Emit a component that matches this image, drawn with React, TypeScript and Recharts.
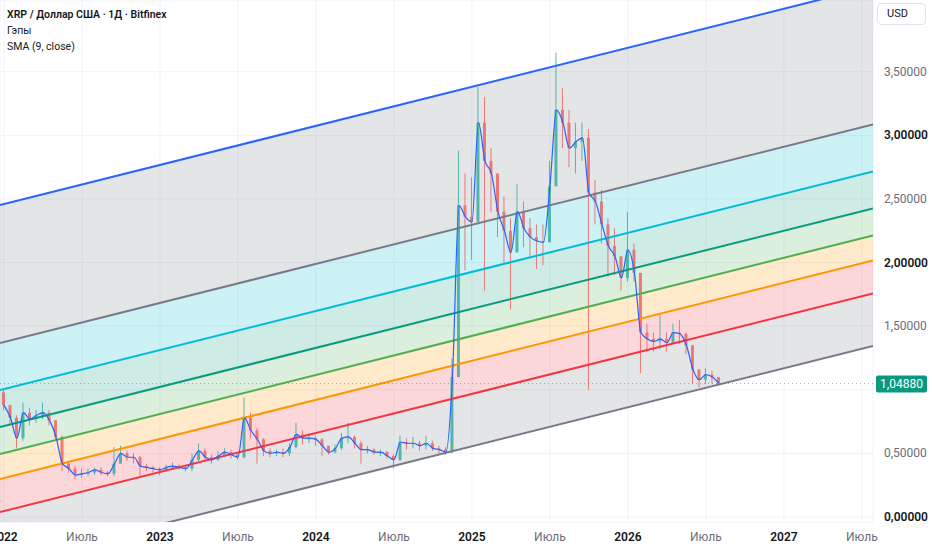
import React from "react";
import {
  ComposedChart,
  Area,
  Line,
  Bar,
  XAxis,
  YAxis,
  CartesianGrid,
  ReferenceLine,
} from "recharts";

// XRP / USD, полумесячные свечи с января 2022 (шаг 1/24 года)
const START = 2022;
const STEP = 1 / 24;
const FIRST_OPEN = 0.98;

const closes = [
  0.88, 0.78, 0.62, 0.82, 0.77, 0.8, 0.82, 0.76, 0.63, 0.42, // 2022 H1
  0.38, 0.33, 0.34, 0.35, 0.37, 0.35, 0.34, 0.42, 0.5, 0.47,
  0.47, 0.4, 0.39, 0.38, 0.37, 0.39, 0.4, 0.39, 0.38, 0.45, // 2023
  0.52, 0.47, 0.45, 0.48, 0.51, 0.49, 0.47, 0.78, 0.68, 0.61,
  0.52, 0.5, 0.51, 0.5, 0.55, 0.65, 0.62, 0.62, 0.61, 0.56, // 2024
  0.51, 0.54, 0.62, 0.63, 0.58, 0.53, 0.53, 0.51, 0.51, 0.48,
  0.45, 0.59, 0.58, 0.58, 0.56, 0.58, 0.54, 0.53, 0.51, 1.1,
  2.45, 2.36, 2.32, 3.1, 2.8, 2.7, 2.4, 2.25, 2.08, 2.4, // 2025
  2.27, 2.2, 2.17, 2.16, 2.6, 3.2, 3.1, 2.9, 2.95, 2.98,
  2.55, 2.48, 2.3, 2.13, 2.05, 1.88, 2.1, 1.92, 1.45, 1.4, // 2026
  1.38, 1.4, 1.37, 1.45, 1.44, 1.35, 1.16, 1.08, 1.12, 1.1,
  1.0488,
];

const highs = [
  1.0, 0.88, 0.8, 0.9, 0.86, 0.84, 0.9, 0.84, 0.76, 0.64,
  0.44, 0.4, 0.38, 0.38, 0.39, 0.39, 0.36, 0.55, 0.56, 0.52,
  0.5, 0.48, 0.42, 0.4, 0.39, 0.41, 0.43, 0.42, 0.4, 0.5,
  0.58, 0.54, 0.49, 0.52, 0.54, 0.53, 0.5, 0.94, 0.82, 0.7,
  0.62, 0.54, 0.53, 0.54, 0.58, 0.74, 0.68, 0.66, 0.64, 0.62,
  0.56, 0.57, 0.66, 0.74, 0.64, 0.6, 0.56, 0.54, 0.53, 0.52,
  0.49, 0.64, 0.62, 0.63, 0.6, 0.64, 0.6, 0.56, 0.55, 1.25,
  2.88, 2.7, 2.67, 3.38, 3.3, 2.9, 2.7, 2.52, 2.35, 2.62,
  2.48, 2.35, 2.3, 2.3, 2.8, 3.65, 3.37, 3.2, 3.1, 3.1,
  3.05, 2.65, 2.57, 2.35, 2.27, 2.02, 2.4, 2.15, 1.8, 1.52,
  1.45, 1.59, 1.45, 1.52, 1.55, 1.45, 1.3, 1.16, 1.17, 1.15,
  1.1,
];

const lows = [
  0.84, 0.72, 0.54, 0.6, 0.72, 0.74, 0.77, 0.72, 0.6, 0.36,
  0.35, 0.3, 0.31, 0.32, 0.33, 0.33, 0.32, 0.32, 0.42, 0.44,
  0.42, 0.32, 0.36, 0.35, 0.33, 0.36, 0.37, 0.37, 0.36, 0.36,
  0.44, 0.44, 0.42, 0.44, 0.47, 0.46, 0.45, 0.46, 0.62, 0.42,
  0.48, 0.47, 0.48, 0.47, 0.48, 0.54, 0.57, 0.58, 0.56, 0.48,
  0.49, 0.5, 0.53, 0.58, 0.54, 0.42, 0.5, 0.49, 0.48, 0.46,
  0.38, 0.44, 0.53, 0.54, 0.52, 0.53, 0.52, 0.5, 0.49, 0.5,
  1.1, 1.94, 2.02, 2.3, 1.78, 2.4, 2.2, 2.0, 1.63, 2.08,
  2.12, 2.05, 1.95, 1.98, 2.16, 2.6, 2.9, 2.75, 2.7, 2.8,
  1.0, 2.3, 2.15, 1.89, 1.9, 1.78, 1.85, 1.85, 1.13, 1.3,
  1.3, 1.32, 1.3, 1.36, 1.36, 1.28, 1.05, 1.02, 1.05, 1.05,
  1.03,
];

// Параллельный канал: значения линий на левом и правом краю графика
const X_DOMAIN = [2021.9744, 2027.571];
const channelLeft = [2.453, 1.368, 0.998, 0.708, 0.495, 0.299, 0.039, -0.373];
const channelRight = [4.171, 3.086, 2.716, 2.426, 2.213, 2.017, 1.757, 1.345];
const channelColors = ["#2962ff", "#787b86", "#00bcd4", "#089981", "#4caf50", "#ff9800", "#f23645", "#787b86"];
const bandColors = ["#787b86", "#00bcd4", "#089981", "#4caf50", "#ff9800", "#f23645", "#787b86"];

const yTicks = [0, 0.5, 1, 1.5, 2, 2.5, 3, 3.5];
const xTicks = [2022, 2022.5, 2023, 2023.5, 2024, 2024.5, 2025, 2025.5, 2026, 2026.5, 2027, 2027.5];
const xLabels = ["2022", "Июль", "2023", "Июль", "2024", "Июль", "2025", "Июль", "2026", "Июль", "2027", "Июль"];
const LAST_PRICE = 1.0488;

const FONT = "Roboto, 'Noto Sans', sans-serif";

type Row = Record<string, any>;

const candles: Row[] = closes.map((c, i) => {
  const open = i === 0 ? FIRST_OPEN : closes[i - 1];
  return {
    t: START + i * STEP,
    open,
    close: c,
    high: highs[i],
    low: lows[i],
    range: [lows[i], highs[i]],
  };
});

// две опорные точки на каждую линию / полосу канала
const channelData: Row[] = [
  { t: X_DOMAIN[0], v: channelLeft },
  { t: X_DOMAIN[1], v: channelRight },
];

const Candle = (p: any) => {
  const { x, y, width, height, payload } = p;
  if (!payload || payload.open == null) return null;
  const { open, close, high, low } = payload;
  const top = Math.min(y, y + height);
  const h = Math.abs(height);
  const k = h / (high - low);
  const yo = top + (high - open) * k;
  const yc = top + (high - close) * k;
  const color = close >= open ? "#26a69a" : "#ef5350";
  const cx = x + width / 2;
  return (
    <g opacity={0.75}>
      <line x1={cx} x2={cx} y1={top} y2={top + h} stroke={color} strokeWidth={1} />
      <rect x={x} y={Math.min(yo, yc)} width={width} height={Math.max(1, Math.abs(yc - yo))} fill={color} />
    </g>
  );
};

const PriceTick = ({ x, y, payload }: any) => {
  const v = payload.value as number;
  // 1,00000 закрыта плашкой текущей цены
  if (Math.abs(v - LAST_PRICE) < 0.1) return <g />;
  const bold = Number.isInteger(v);
  return (
    <text
      x={x + 3}
      y={y}
      dy={4}
      textAnchor="start"
      fontSize={12}
      fontFamily={FONT}
      fontWeight={bold ? 600 : 400}
      fill={bold ? "#131722" : "#6a6d78"}
    >
      {v.toFixed(5).replace(".", ",")}
    </text>
  );
};

const TimeTick = ({ x, y, payload }: any) => {
  const i = xTicks.indexOf(payload.value);
  const label = xLabels[i] ?? "";
  const year = label !== "Июль";
  return (
    <text
      x={x}
      y={y}
      dy={11}
      textAnchor="middle"
      fontSize={12}
      fontFamily={FONT}
      fontWeight={year ? 600 : 400}
      fill={year ? "#131722" : "#6a6d78"}
    >
      {label}
    </text>
  );
};

const PriceLabel = (props: any) => {
  const vb = props.viewBox || {};
  const xr = (vb.x ?? 0) + (vb.width ?? 0);
  const yy = vb.y ?? 0;
  return (
    <g>
      <rect x={xr + 3} y={yy - 8} width={51} height={17} rx={2} fill="#089981" />
      <text x={xr + 28.5} y={yy + 4.5} textAnchor="middle" fill="#ffffff" fontSize={12} fontFamily={FONT}>
        {LAST_PRICE.toFixed(5).replace(".", ",")}
      </text>
    </g>
  );
};

export default function App() {
  return (
    <div style={{ position: "absolute", left: 0, top: 0, width: 932, height: 550, background: "#fff", fontFamily: FONT }}>
      <ComposedChart width={932} height={550} data={candles} margin={{ top: 0, right: 0, left: 0, bottom: 0 }}>
        <CartesianGrid stroke="#f0f3fa" strokeWidth={1} />
        <XAxis
          dataKey="t"
          type="number"
          domain={X_DOMAIN}
          allowDataOverflow
          ticks={xTicks}
          interval={0}
          tick={<TimeTick />}
          axisLine={false}
          tickLine={false}
          height={28}
        />
        <YAxis
          orientation="right"
          type="number"
          domain={[-0.039, 4.064]}
          allowDataOverflow
          ticks={yTicks}
          interval={0}
          tick={<PriceTick />}
          axisLine={false}
          tickLine={false}
          width={59}
        />
        {bandColors.map((c, i) => (
          <Area
            key={`b${i}`}
            data={channelData}
            dataKey={(r: Row) => [r.v[i + 1], r.v[i]]}
            type="linear"
            stroke="none"
            fill={c}
            fillOpacity={0.2}
            dot={false}
            activeDot={false}
            isAnimationActive={false}
          />
        ))}
        {channelColors.map((c, i) => (
          <Line
            key={`c${i}`}
            data={channelData}
            dataKey={(r: Row) => r.v[i]}
            type="linear"
            stroke={c}
            strokeWidth={2}
            dot={false}
            activeDot={false}
            isAnimationActive={false}
          />
        ))}
        <ReferenceLine y={LAST_PRICE} stroke="#089981" strokeDasharray="1 3" strokeOpacity={0.6} label={<PriceLabel />} />
        <Bar dataKey="range" barSize={3} shape={<Candle />} isAnimationActive={false} />
        <Line
          dataKey="close"
          type="monotone"
          stroke="#2962ff"
          strokeWidth={1.2}
          dot={false}
          activeDot={false}
          isAnimationActive={false}
        />
      </ComposedChart>
      <div style={{ position: "absolute", left: 7, top: 7, fontSize: 10.5, lineHeight: "16px", color: "#131722" }}>
        <div style={{ fontWeight: 600 }}>XRP / Доллар США · 1Д · Bitfinex</div>
        <div>Гэпы</div>
        <div>SMA (9, close)</div>
      </div>
      <div
        style={{
          position: "absolute",
          left: 877,
          top: 3,
          width: 49,
          height: 22,
          boxSizing: "border-box",
          border: "1px solid #e0e3eb",
          borderRadius: 4,
          fontSize: 11,
          lineHeight: "20px",
          paddingLeft: 9,
          color: "#131722",
          background: "#fff",
        }}
      >
        USD
      </div>
    </div>
  );
}
